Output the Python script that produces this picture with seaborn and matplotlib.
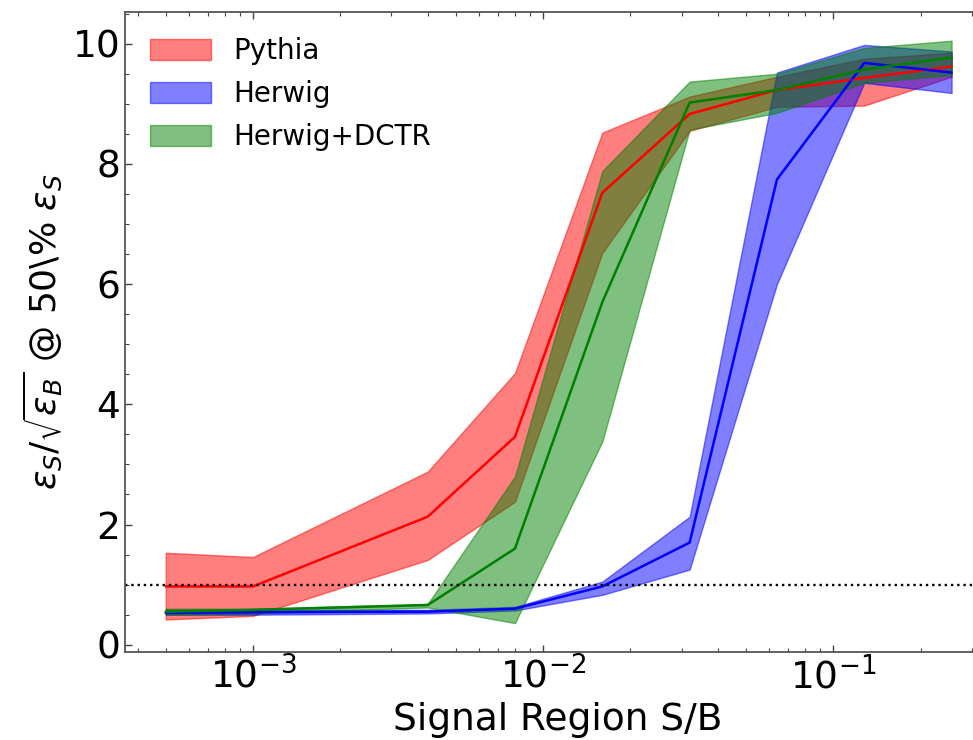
import numpy as np
import pandas as pd
import seaborn as sns
import matplotlib
matplotlib.use('Agg')
import matplotlib.pyplot as plt

# signal region S/B
sb = [5e-4, 1e-3, 4e-3, 8e-3, 1.6e-2, 3.2e-2, 6.4e-2, 0.128, 0.256]

# Pythia
pythia_mid = [0.97, 0.97, 2.13, 3.46, 7.52, 8.83, 9.23, 9.43, 9.62]
pythia_lo = [0.42, 0.48, 1.41, 2.38, 6.52, 8.55, 8.95, 8.97, 9.45]
pythia_hi = [1.53, 1.46, 2.88, 4.52, 8.52, 9.12, 9.45, 9.75, 9.85]

# Herwig
herwig_mid = [0.53, 0.54, 0.55, 0.60, 0.97, 1.70, 7.74, 9.68, 9.52]
herwig_lo = [0.50, 0.50, 0.52, 0.57, 0.83, 1.25, 6.00, 9.35, 9.18]
herwig_hi = [0.58, 0.58, 0.58, 0.63, 1.05, 2.13, 9.52, 9.98, 9.87]

# Herwig+DCTR
dctr_mid = [0.55, 0.58, 0.66, 1.60, 5.70, 9.02, 9.23, 9.57, 9.77]
dctr_lo = [0.50, 0.52, 0.62, 0.36, 3.38, 8.57, 8.85, 9.35, 9.48]
dctr_hi = [0.60, 0.60, 0.68, 2.80, 7.88, 9.37, 9.50, 9.93, 10.05]

sns.set_style('ticks')
plt.rcParams['font.family'] = ['DejaVu Sans']
plt.rcParams['mathtext.fontset'] = 'dejavusans'
plt.rcParams['text.color'] = 'black'
plt.rcParams['axes.labelcolor'] = 'black'
plt.rcParams['xtick.color'] = 'black'
plt.rcParams['ytick.color'] = 'black'

fig = plt.figure(figsize=(9.73, 7.4), dpi=100)
ax = fig.add_axes([0.1285, 0.119, 0.890, 0.865])

series = [
    ('Pythia', pythia_mid, pythia_lo, pythia_hi, 'red'),
    ('Herwig', herwig_mid, herwig_lo, herwig_hi, 'blue'),
    ('Herwig+DCTR', dctr_mid, dctr_lo, dctr_hi, 'green'),
]

for name, mid, lo, hi, c in series:
    ax.fill_between(sb, lo, hi, color=c, alpha=0.5, label=name)
    df = pd.DataFrame({'sb': sb, 'v': mid})
    sns.lineplot(data=df, x='sb', y='v', color=c, lw=1.8, ax=ax, legend=False)

ax.axhline(1, color='k', ls=':', lw=1.7)

ax.set_xscale('log')
ax.set_xlim(3.62e-4, 0.35)
ax.set_ylim(-0.12, 10.53)
ax.set_yticks([0, 2, 4, 6, 8, 10])
ax.set_yticks(np.arange(0, 10.6, 0.5), minor=True)

ax.tick_params(which='both', direction='in', top=True, right=True,
               labelsize=27, labelcolor='black', color='#444444')
ax.tick_params(which='major', length=5, width=1)
ax.tick_params(which='minor', length=3, width=0.8)
for s in ax.spines.values():
    s.set_color('#555555')
    s.set_linewidth(1.3)

ax.set_xlabel('Signal Region S/B', fontsize=27, labelpad=4)
ax.set_ylabel(r'$\epsilon_S/\sqrt{\epsilon_B}$ @ 50\% $\epsilon_S$', fontsize=26, labelpad=6)

ax.legend(loc='upper left', frameon=False, fontsize=20, handlelength=2.2,
          handleheight=0.8, labelspacing=0.55, borderaxespad=0.5)

fig.savefig('out.png', dpi=100)
